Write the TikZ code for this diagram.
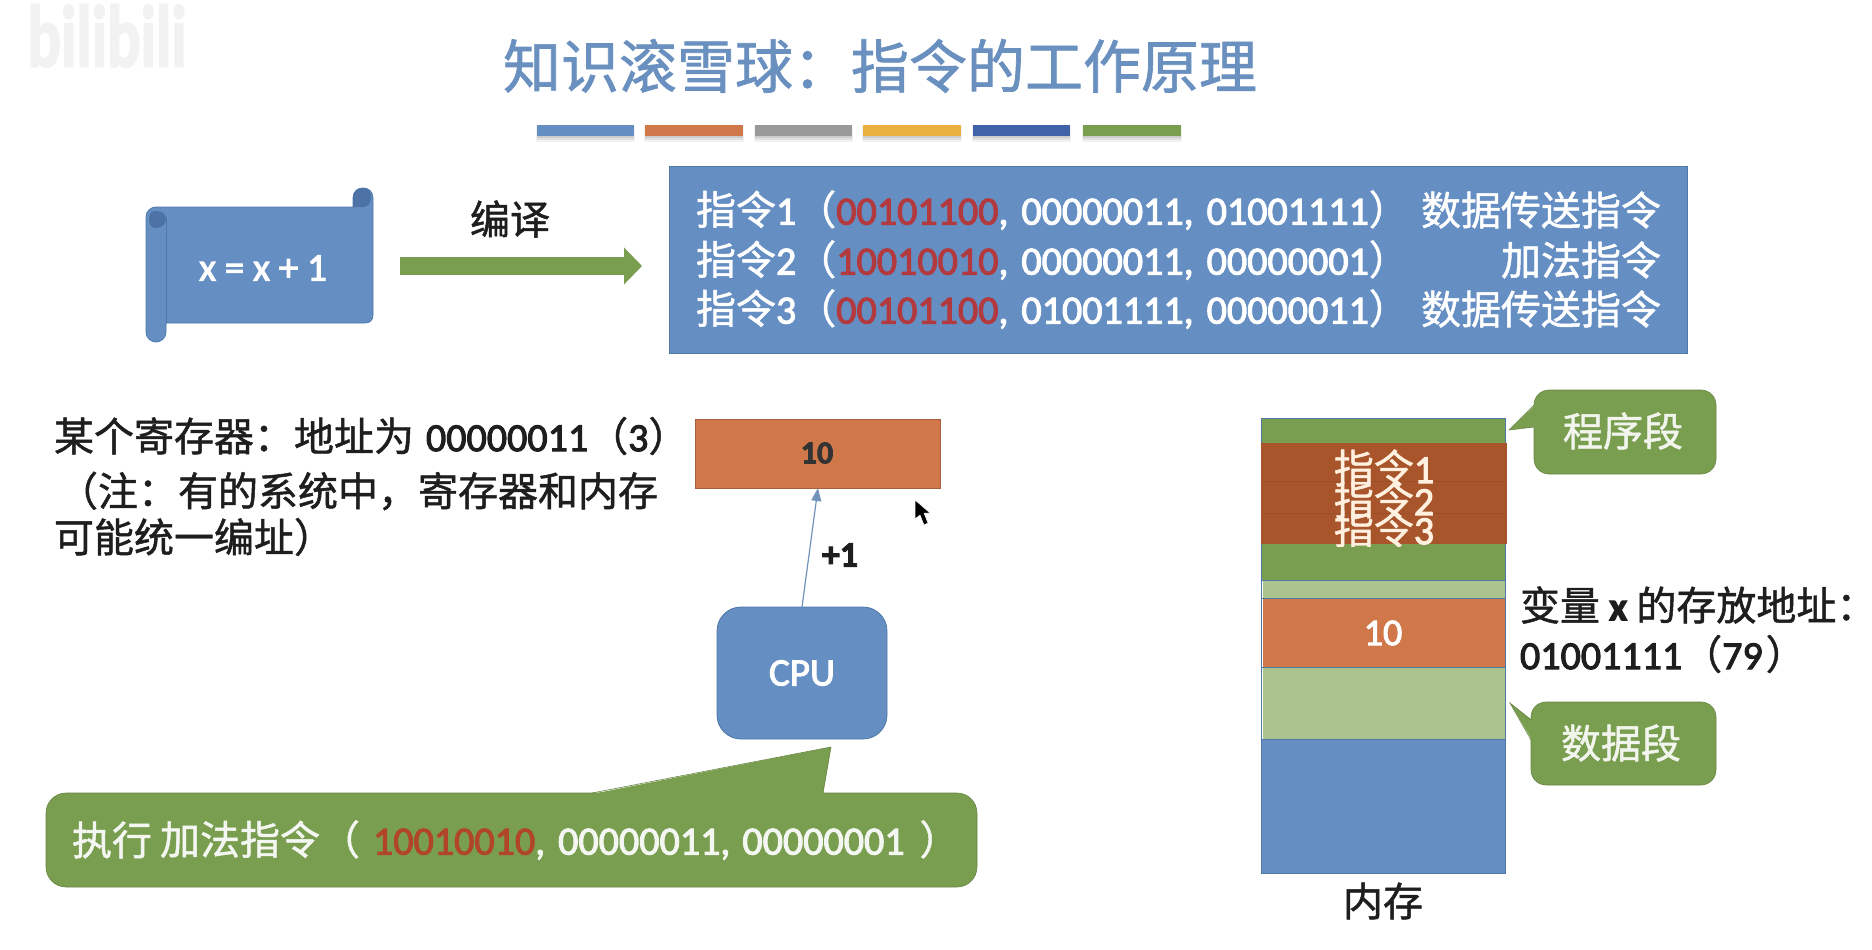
\documentclass[tikz,border=0pt]{standalone}
\usepackage{fontspec}
\usepackage{xcolor}
\setmainfont{Carlito}[FakeBold=2.5]
\newfontfamily\cjk{Noto Sans CJK SC}[FakeBold=1.2]
\usetikzlibrary{arrows.meta}
\definecolor{pblue}{HTML}{658EC3}
\definecolor{pblueedge}{HTML}{4E78A8}
\definecolor{pbluedark}{HTML}{4C72A6}
\definecolor{porange}{HTML}{D0784A}
\definecolor{pbrown}{HTML}{A8552B}
\definecolor{pgreen}{HTML}{7A9E50}
\definecolor{plight}{HTML}{ABC48E}
\definecolor{pgray}{HTML}{999999}
\definecolor{pyellow}{HTML}{EBB140}
\definecolor{pnavy}{HTML}{3F62A8}
\definecolor{ptitle}{HTML}{6A90C0}
\definecolor{pred}{HTML}{B23A3E}
\definecolor{pred2}{HTML}{B0452A}
\definecolor{ptext}{HTML}{1E1E1E}
\newcommand{\zh}[1]{{\cjk #1}}
\newcommand{\rd}[1]{\textcolor{pred}{#1}}
\newcommand{\cs}{,\hspace{13pt}}
\newcommand{\csb}{,\hspace{12pt}}
\tikzset{
  x=1pt,y=-1pt,
  every node/.style={inner sep=0pt,outer sep=0pt},
  txt/.style={anchor=west,font=\fontsize{40pt}{40pt}\selectfont,text=ptext},
  wtxt/.style={txt,text=white},
  ctxt/.style={anchor=center,font=\fontsize{40pt}{40pt}\selectfont,text=ptext},
  memedge/.style={draw=pblueedge,line width=0.8pt},
  calloutbody/.style={fill=pgreen,draw=pgreen!85!black,line width=0.6pt},
  callouttail/.style={fill=pgreen},
  tailedge/.style={draw=pgreen!85!black,line width=0.6pt},
}
\begin{document}
\begin{tikzpicture}
\useasboundingbox (0,0) rectangle (1872,950);
% watermark
\node[anchor=center,font=\fontsize{88pt}{88pt}\selectfont\bfseries,text=black!5,transform shape,xscale=.71] (wm) at (107,36) {bilibili};
% title
\node[anchor=center,font=\cjk\fontsize{58pt}{58pt}\selectfont,text=ptitle] (title) at (880,66) {知识滚雪球：指令的工作原理};
% colour bars
\foreach \xa/\xb/\c in {537/634/pblue,645/743/porange,755/852/pgray,863/961/pyellow,973/1070/pnavy,1083/1181/pgreen}{
  \fill[black,opacity=.05] (\xa-1,126) rectangle (\xb+1,142);
  \fill[black,opacity=.07] (\xa,126) rectangle (\xb,140);
  \fill[black,opacity=.09] (\xa,126) rectangle (\xb,138);
  \fill[\c] (\xa,125) rectangle (\xb,136);
}
% scroll
\node[minimum width=227pt,minimum height=116pt] (scroll) at (259.5,266) {};
\draw[fill=pblue,draw=pblueedge,line width=0.8pt]
  (156,207) -- (353,207) -- (353,198) .. controls (353,191) and (358,188) .. (363,188)
  .. controls (368,188) and (373,191) .. (373,198) -- (373,315)
  .. controls (373,320) and (370,323) .. (365,323) -- (166,323) -- (166,332)
  .. controls (166,338) and (161,342) .. (156,342) .. controls (151,342) and (146,338) .. (146,332)
  -- (146,217) .. controls (146,211) and (151,207) .. (156,207) -- cycle;
\fill[pbluedark] (353,207) -- (353,198) .. controls (353,191) and (358,188) .. (363,188)
  .. controls (368,188) and (371,191) .. (371,198) .. controls (371,203) and (368,207) .. (363,207)-- cycle;
\fill[pbluedark] (156,211) .. controls (162,211) and (166,214) .. (166,219) .. controls (166,224) and (162,228) .. (156,228)
  .. controls (151,228) and (149,224) .. (149,219) .. controls (149,214) and (151,211) .. (156,211) -- cycle;
\draw[pblueedge,line width=0.8pt] (166,217) -- (166,323);
\node[ctxt,text=white,font=\fontsize{39pt}{39pt}\selectfont] (scrolltext) at (263,268) {x = x + 1};
% translate label and arrow
\node[ctxt] (compile) at (510,219) {\zh{编译}};
% instruction box
\node[fill=pblue,draw=pblueedge,line width=0.8pt,minimum width=1018pt,minimum height=187pt] (prog) at (1178,259.5) {};
\draw[pgreen,line width=18pt,-{Triangle[length=18pt,width=36pt]},shorten <=27pt,shorten >=27pt]
  (scroll.east) -- (prog.west |- scroll.east);
\node[wtxt] (l1) at (696,210) {\zh{指令}1\zh{（}\rd{00101100}\cs 00000011\cs 01001111\zh{）}};
\node[wtxt] (l2) at (696,260) {\zh{指令}2\zh{（}\rd{10010010}\cs 00000011\cs 00000001\zh{）}};
\node[wtxt] (l3) at (696,309) {\zh{指令}3\zh{（}\rd{00101100}\cs 01001111\cs 00000011\zh{）}};
\node[wtxt,anchor=east] (r1) at (1661,210) {\zh{数据传送指令}};
\node[wtxt,anchor=east] (r2) at (1661,260) {\zh{加法指令}};
\node[wtxt,anchor=east] (r3) at (1661,309) {\zh{数据传送指令}};
% left notes
\node[txt] (n1) at (54,436) {\zh{某个寄存器：地址为}\hspace{12pt}00000011\zh{（}3\zh{）}};
\node[txt] (n2) at (58,491) {\zh{（注：有的系统中，寄存器和内存}};
\node[txt] (n3) at (54,537) {\zh{可能统一编址）}};
% register
\node[fill=porange,draw=porange!80!black,line width=0.6pt,minimum width=245pt,minimum height=69pt] (reg) at (818,453.5) {};
\node[anchor=center,font=\bfseries\fontsize{32pt}{32pt}\selectfont,text=black!80] (regval) at (817,453) {10};
% cpu
\node[fill=pblue,draw=pblueedge,line width=0.8pt,rounded corners=24pt,minimum width=170pt,minimum height=132pt,font=\fontsize{39pt}{39pt}\selectfont,text=white] (cpu) at (802,673) {CPU};
\draw[pblueedge!80,line width=1.2pt,-{Triangle[length=13pt,width=10pt]}] (cpu.north) -- (reg.south);
\node[ctxt,font=\bfseries\fontsize{36pt}{36pt}\selectfont] (plus) at (840,555) {+1};
% cursor
\fill[black,draw=white,line width=0.5pt] (915,500) -- (915,519) -- (920,515) -- (924,525) -- (928,523) -- (924,513) -- (930,513) -- cycle;
% execute callout
\node[calloutbody,rounded corners=20pt,minimum width=931pt,minimum height=94pt] (exec) at (511.5,840) {};
\fill[callouttail] (592,794) -- (831,747) -- (823,794) -- cycle;
\draw[tailedge] (592,793) -- (831,747) -- (823,793);
\node[wtxt,text=white!92!pgreen] (ex1) at (72,840) {\zh{执行}};
\node[wtxt,text=white!92!pgreen] (ex2) at (160,840) {\zh{加法指令（}\hspace{13pt}\textcolor{pred2}{10010010}\cs 00000011\csb 00000001\hspace{15pt}\zh{）}};
% memory
\fill[pgreen] (1261,418) rectangle (1505,443);
\fill[pgreen] (1261,544) rectangle (1505,580);
\fill[plight] (1263,580) rectangle (1505,598);
\fill[porange] (1263,598) rectangle (1505,667);
\fill[plight] (1263,667) rectangle (1505,739);
\fill[pblue] (1261,739) rectangle (1505,873);
\draw[memedge] (1261,418) rectangle (1505,873);
\draw[memedge] (1261,580) -- (1505,580) (1261,598) -- (1505,598) (1261,667) -- (1505,667) (1261,739) -- (1505,739);
\fill[pbrown] (1261,443) rectangle (1507,544);
\draw[pbrown!92!black,line width=0.7pt] (1261,481) -- (1507,481) (1261,513) -- (1507,513);
\begin{scope}
  \clip (1250,443) rectangle (1520,546);
  \node[ctxt,text=white!88!orange] (i1) at (1384,468) {\zh{指令}1};
  \node[ctxt,text=white!88!orange] (i2) at (1384,500) {\zh{指令}2};
  \node[ctxt,text=white!88!orange] (i3) at (1384,529) {\zh{指令}3};
\end{scope}
\node[ctxt,text=white,font=\fontsize{38pt}{38pt}\selectfont] (ten) at (1383,633) {10};
\node[ctxt] (mem) at (1383,901) {\zh{内存}};
% segment callouts
\node[calloutbody,rounded corners=15pt,minimum width=182pt,minimum height=84pt] (seg1box) at (1625,432) {};
\fill[callouttail] (1535,405) -- (1509,430) -- (1535,427) -- cycle;
\draw[tailedge] (1534,405) -- (1509,430) -- (1534,427);
\node[ctxt,text=white!90!pgreen] (seg1) at (1623,431) {\zh{程序段}};
\node[calloutbody,rounded corners=15pt,minimum width=185pt,minimum height=83pt] (seg2box) at (1623.5,743.5) {};
\fill[callouttail] (1532,720) -- (1510,703) -- (1532,740) -- cycle;
\draw[tailedge] (1531,720) -- (1510,703) -- (1531,740);
\node[ctxt,text=white!90!pgreen] (seg2) at (1621,743) {\zh{数据段}};
% address note
\node[txt] (a1) at (1520,605) {\zh{变量}\hspace{9pt}\textbf{x}\hspace{9pt}\zh{的存放地址：}};
\node[txt] (a2) at (1520,654) {01001111\zh{（}79\hspace{3pt}\zh{）}};
\end{tikzpicture}
\end{document}
